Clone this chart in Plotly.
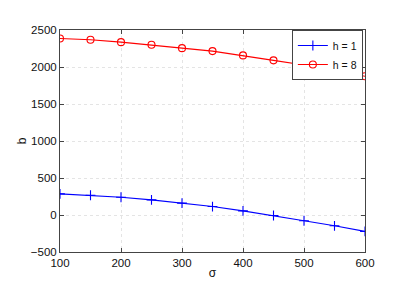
import plotly.graph_objects as go

sigma = [100, 150, 200, 250, 300, 350, 400, 450, 500, 550, 600]
b_h1 = [285, 267, 240, 204, 160, 114, 56, -7, -78, -146, -222]
b_h8 = [2386, 2368, 2336, 2300, 2255, 2215, 2157, 2090, 2026, 1955, 1874]
x_ticks = [100, 200, 300, 400, 500, 600]
y_ticks = [-500, 0, 500, 1000, 1500, 2000, 2500]

FONT = "Liberation Sans, Arial"

fig = go.Figure()
fig.add_trace(go.Scatter(x=sigma, y=b_h1, mode="lines+markers", name="h = 1",
                         line=dict(color="#0000ff", width=1.1),
                         marker=dict(symbol="cross-thin", size=7, line=dict(color="#0000ff", width=1.1))))
fig.add_trace(go.Scatter(x=sigma, y=b_h8, mode="lines+markers", name="h = 8",
                         line=dict(color="#ff0000", width=1.1),
                         marker=dict(symbol="circle-open", size=7, color="#ff0000", line=dict(width=1.1))))

axis_common = dict(showline=True, linecolor="#444444", linewidth=1, mirror="ticks",
                   ticks="inside", ticklen=4, tickcolor="#444444", automargin=False,
                   showgrid=True, gridcolor="#e4e4e4", griddash="dot", gridwidth=1,
                   zeroline=False, tickfont=dict(family=FONT, size=11.5, color="#111111"))

fig.update_xaxes(range=[100, 600], tickvals=x_ticks, title=dict(text="σ", standoff=0,
                 font=dict(family=FONT, size=12, color="#111111")), **axis_common)
fig.update_yaxes(range=[-500, 2500], tickvals=y_ticks, title=dict(text="b", standoff=1,
                 font=dict(family=FONT, size=12, color="#111111")), **axis_common)

fig.update_layout(width=404, height=283, margin=dict(l=52, r=47, t=22, b=39),
                  paper_bgcolor="white", plot_bgcolor="white",
                  legend=dict(x=0.993, y=1.0, xanchor="right", yanchor="top",
                              bgcolor="white", bordercolor="#444444", borderwidth=1,
                              font=dict(family=FONT, size=10.5, color="#111111"),
                              tracegroupgap=0, itemwidth=30))
fig.write_html("out.html")
